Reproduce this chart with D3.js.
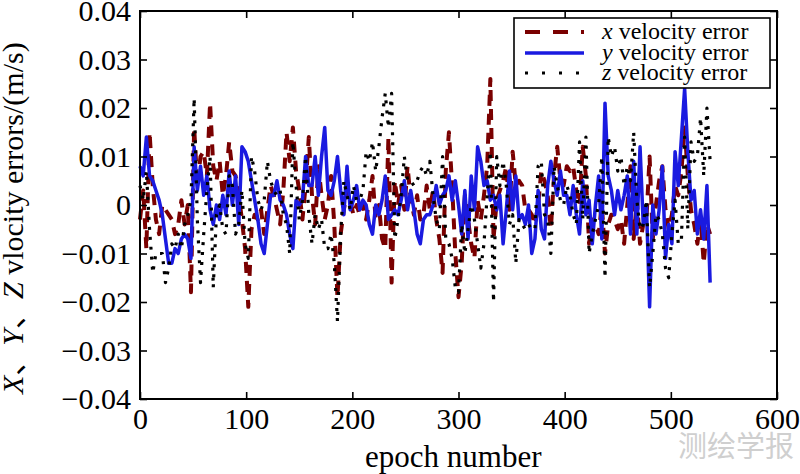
<!DOCTYPE html>
<html>
<head>
<meta charset="utf-8">
<script src="https://cdn.jsdelivr.net/npm/d3@7"></script>
<style>
body { margin: 0; background: #fff; }
svg { display: block; }
svg text, svg tspan { font-family: "Liberation Serif", serif; }
</style>
</head>
<body>
<div id="chart"></div>
<script>
// values every 3rd epoch
const epochStep = 3;

const xVelErr = [
    -0.003, 0.003, -0.009, 0.015, 0.004, -0.003, -0.006, 0.000, -0.001, -0.002,
    -0.003, -0.006, -0.004, 0.001, -0.004, 0.000, -0.018, 0.016, 0.004, 0.010,
    0.011, 0.006, 0.021, 0.008, 0.005, 0.009, 0.002, 0.006, 0.013, 0.007,
    0.006, 0.002, -0.003, -0.009, -0.021, -0.005, -0.002, -0.003, -0.001, -0.006,
    -0.001, 0.004, 0.002, -0.001, -0.004, 0.003, 0.015, 0.009, 0.016, 0.007,
    0.003, -0.003, 0.004, 0.014, 0.002, -0.004, 0.008, 0.002, -0.003, 0.000,
    0.006, -0.004, -0.019, -0.006, -0.001, 0.003, 0.001, -0.002, 0.000, -0.002,
    0.000, -0.003, 0.001, 0.006, -0.003, 0.000, -0.007, -0.009, 0.014, -0.016,
    0.005, 0.000, 0.004, -0.001, 0.008, 0.001, -0.002, 0.002, -0.003, -0.002,
    0.004, -0.001, 0.003, -0.003, -0.007, -0.014, 0.007, 0.015, 0.004, -0.010,
    -0.019, -0.012, 0.002, -0.003, -0.008, -0.011, 0.001, -0.003, 0.002, 0.008,
    0.026, -0.007, 0.001, 0.003, 0.005, 0.008, -0.001, 0.011, 0.004, 0.005,
    0.004, -0.001, -0.001, -0.002, -0.004, 0.000, 0.007, 0.005, 0.002, -0.005,
    0.006, 0.012, 0.005, 0.004, 0.008, 0.007, 0.008, 0.003, 0.000, 0.012,
    0.006, -0.008, -0.003, -0.004, -0.006, 0.000, -0.010, -0.004, -0.002, -0.003,
    -0.005, -0.003, -0.008, 0.000, 0.008, -0.007, 0.001, -0.008, -0.004, -0.003,
    0.010, -0.007, 0.000, 0.005, 0.008, -0.001, -0.005, -0.002, 0.004, 0.002,
    0.007, 0.016, 0.006, -0.001, -0.004, -0.008, -0.003, -0.012, -0.004, -0.006
];

const yVelErr = [
    0.008, 0.006, 0.014, 0.006, 0.005, 0.003, 0.001, -0.002, -0.007, -0.012,
    -0.012, -0.009, -0.010, -0.007, -0.006, -0.007, -0.011, 0.012, 0.003, 0.008,
    0.002, 0.006, -0.001, -0.004, 0.000, -0.003, 0.002, -0.002, 0.007, 0.000,
    0.006, -0.004, 0.012, 0.011, 0.009, 0.005, 0.001, -0.003, -0.008, -0.010,
    -0.004, 0.002, 0.002, 0.005, 0.001, 0.000, -0.002, -0.006, -0.009, 0.001,
    0.000, 0.001, 0.010, 0.004, 0.004, 0.010, 0.002, 0.010, 0.016, 0.003,
    0.002, 0.005, 0.010, 0.003, -0.002, 0.008, -0.001, 0.001, 0.004, -0.001,
    0.001, 0.000, -0.004, -0.006, 0.000, -0.002, 0.001, 0.006, -0.003, -0.002,
    -0.001, -0.002, 0.001, 0.005, -0.001, 0.003, -0.001, -0.006, -0.008, -0.003,
    -0.002, -0.002, 0.000, 0.004, 0.000, 0.002, 0.003, 0.006, 0.001, 0.005,
    0.000, -0.006, 0.003, -0.007, 0.006, -0.001, 0.012, 0.009, 0.004, 0.005,
    0.001, 0.002, -0.001, 0.002, -0.008, -0.001, 0.007, -0.001, 0.006, -0.003,
    -0.002, -0.004, 0.000, -0.010, -0.007, 0.003, -0.005, -0.007, 0.004, 0.009,
    0.005, 0.002, 0.007, 0.002, 0.002, -0.002, 0.004, -0.002, -0.006, 0.005,
    -0.002, 0.001, -0.008, 0.000, 0.006, -0.007, 0.021, 0.006, 0.003, -0.002,
    0.003, -0.001, 0.002, 0.006, -0.006, 0.009, -0.006, 0.012, -0.004, 0.000,
    -0.021, 0.000, -0.006, -0.001, 0.008, -0.011, -0.004, -0.008, 0.011, 0.004,
    0.014, 0.024, 0.011, 0.001, 0.003, -0.006, -0.001, -0.007, 0.004, -0.016
];

const zVelErr = [
    0.004, 0.001, 0.007, -0.005, -0.014, -0.010, -0.010, -0.010, -0.016, -0.013,
    -0.008, -0.009, -0.006, -0.009, -0.004, -0.002, 0.001, 0.022, -0.003, -0.016,
    -0.006, 0.003, 0.010, -0.017, -0.002, 0.000, -0.005, -0.006, 0.006, 0.004,
    -0.006, -0.004, 0.003, -0.008, -0.011, 0.010, 0.007, 0.001, -0.001, 0.001,
    0.009, 0.005, 0.003, 0.002, 0.003, -0.002, -0.004, -0.010, 0.013, 0.004,
    -0.003, 0.001, 0.010, -0.002, -0.008, -0.002, -0.005, -0.003, -0.009, -0.009,
    -0.006, -0.012, -0.024, -0.006, 0.005, 0.002, -0.001, 0.004, 0.001, 0.001,
    0.003, 0.011, 0.009, 0.013, 0.007, 0.012, 0.018, 0.023, 0.016, 0.023,
    -0.007, -0.003, 0.002, 0.010, 0.005, 0.005, 0.004, 0.005, 0.007, 0.008,
    0.006, 0.009, 0.002, -0.003, -0.005, 0.010, -0.007, -0.008, -0.011, -0.017,
    -0.018, -0.004, -0.010, -0.005, 0.000, -0.003, -0.008, -0.013, -0.008, 0.002,
    0.011, -0.020, 0.010, 0.004, 0.009, 0.004, -0.004, -0.002, -0.012, -0.003,
    -0.004, -0.005, -0.004, -0.005, -0.005, 0.008, 0.009, -0.002, -0.003, -0.010,
    0.008, 0.004, 0.001, 0.000, 0.004, 0.002, -0.002, -0.004, 0.013, -0.003,
    0.014, -0.010, -0.006, -0.003, 0.000, 0.010, -0.015, 0.014, 0.010, 0.012,
    0.007, 0.010, 0.004, 0.008, 0.005, 0.015, 0.001, -0.005, -0.004, 0.001,
    -0.017, -0.010, -0.002, -0.003, -0.006, -0.013, -0.015, -0.006, 0.001, -0.008,
    -0.007, 0.014, -0.005, 0.013, 0.009, 0.010, 0.018, 0.006, 0.020, 0.009
];

const xTicks = [0, 100, 200, 300, 400, 500, 600];
const yTicks = [-0.04, -0.03, -0.02, -0.01, 0, 0.01, 0.02, 0.03, 0.04];
const seriesNames = ["x", "y", "z"];

function drawChart() {
    var width = 800, height = 474;
    var left = 140, right = 777, top = 11, bottom = 399;
    var cjk = "'Noto Sans CJK SC', sans-serif";

    var svg = d3.select("#chart")
        .append("svg")
        .attr("width", width)
        .attr("height", height);

    var x = d3.scaleLinear().domain([0, 600]).range([left, right]);
    var y = d3.scaleLinear().domain([-0.04, 0.04]).range([bottom, top]);

    var series = [
        {data: xVelErr, colour: "#7a0000", width: 4, dash: "11,8", legendDash: "15,13"},
        {data: yVelErr, colour: "#1a1ae0", width: 3.5, dash: null, legendDash: null},
        {data: zVelErr, colour: "#000", width: 3.2, dash: "3,7", legendDash: "3,14"}
    ];

    var line = d3.line()
        .x(function (d, i) { return x(i * epochStep); })
        .y(function (d) { return y(d); });

    // lines, in the order they were plotted
    series.forEach(function (s) {
        svg.append("path")
            .datum(s.data)
            .attr("fill", "none")
            .attr("stroke", s.colour)
            .attr("stroke-width", s.width)
            .attr("stroke-dasharray", s.dash)
            .attr("stroke-linejoin", "round")
            .attr("d", line);
    });

    var fmt = function (d) { return d === 0 ? "0" : d3.format(".2f")(d); };

    // axes with inward ticks on all sides
    var gl = svg.append("g").attr("transform", "translate(" + left + ",0)")
        .call(d3.axisLeft(y).tickValues(yTicks).tickFormat(fmt)
            .tickSizeInner(-7).tickSizeOuter(0).tickPadding(9));
    var gb = svg.append("g").attr("transform", "translate(0," + bottom + ")")
        .call(d3.axisBottom(x).tickValues(xTicks)
            .tickSizeInner(-7).tickSizeOuter(0).tickPadding(9));
    var gr = svg.append("g").attr("transform", "translate(" + right + ",0)")
        .call(d3.axisRight(y).tickValues(yTicks).tickFormat("")
            .tickSizeInner(-7).tickSizeOuter(0));
    var gt = svg.append("g").attr("transform", "translate(0," + top + ")")
        .call(d3.axisTop(x).tickValues(xTicks).tickFormat("")
            .tickSizeInner(-7).tickSizeOuter(0));

    [gl, gb, gr, gt].forEach(function (g) {
        g.attr("font-family", null).attr("font-size", null);
        g.select(".domain").remove();
        g.selectAll("line").attr("stroke", "#000").attr("stroke-width", 1.6);
        g.selectAll("text")
            .style("font-size", "30px")
            .attr("fill", "#000");
    });

    svg.append("rect")
        .attr("x", left).attr("y", top)
        .attr("width", right - left).attr("height", bottom - top)
        .attr("fill", "none").attr("stroke", "#000").attr("stroke-width", 2);

    // axis titles
    svg.append("text")
        .attr("x", 365).attr("y", 467)
        .style("font-size", "31px")
        .text("epoch number");

    var ylab = svg.append("text")
        .attr("transform", "translate(23,394) rotate(-90)")
        .style("font-size", "30px");
    ylab.append("tspan").style("font-style", "italic").text("X");
    ylab.append("tspan").style("font-family", cjk).text("、");
    ylab.append("tspan").style("font-style", "italic").text("Y");
    ylab.append("tspan").style("font-family", cjk).text("、");
    ylab.append("tspan").style("font-style", "italic").text("Z");
    ylab.append("tspan").text(" vlocity errors/(m/s)");

    // legend
    var lg = svg.append("g");
    lg.append("rect")
        .attr("x", 514).attr("y", 18).attr("width", 256).attr("height", 70)
        .attr("fill", "#fff").attr("stroke", "#000").attr("stroke-width", 1.6);
    var rowY = [32, 53, 73];
    series.forEach(function (s, i) {
        lg.append("line")
            .attr("x1", 525).attr("x2", 584)
            .attr("y1", rowY[i]).attr("y2", rowY[i])
            .attr("stroke", s.colour)
            .attr("stroke-width", s.width)
            .attr("stroke-dasharray", s.legendDash);
        var t = lg.append("text")
            .attr("x", 602).attr("y", rowY[i] + 7)
            .style("font-size", "24px");
        t.append("tspan").style("font-style", "italic").text(seriesNames[i]);
        t.append("tspan").text(" velocity error");
    });

    // journal watermark
    svg.append("text")
        .attr("x", 678).attr("y", 457)
        .style("font-family", cjk)
        .style("font-size", "29px")
        .attr("fill", "#cfcfcf")
        .text("测绘学报");
}

drawChart();
</script>
</body>
</html>
